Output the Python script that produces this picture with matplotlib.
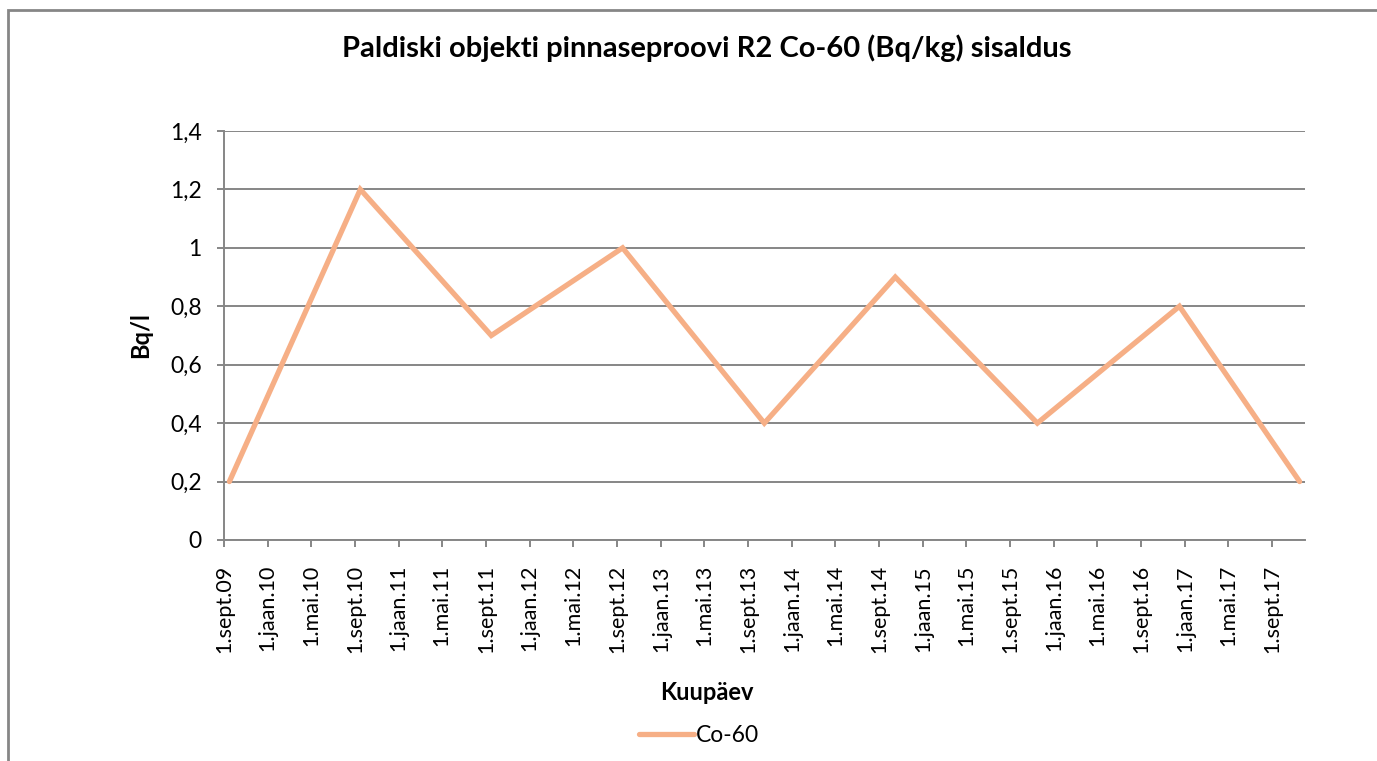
import matplotlib
matplotlib.use("Agg")
import matplotlib.pyplot as plt
from matplotlib.patches import Rectangle
import pandas as pd

# Co-60 proovid (kuu, Bq/l)
sample_months = ["2009-09", "2010-09", "2011-09", "2012-09", "2013-10",
                 "2014-10", "2015-11", "2016-12", "2017-11"]
co60 = [0.2, 1.2, 0.7, 1.0, 0.4, 0.9, 0.4, 0.8, 0.2]

# eesti keelsed kuude lühendid telje jaoks
month_names = {1: "jaan", 5: "mai", 9: "sept"}
y_ticks = [0, 0.2, 0.4, 0.6, 0.8, 1, 1.2, 1.4]

plt.rcParams["font.family"] = ["Lato", "DejaVu Sans"]

W, H = 1377, 761
fig = plt.figure(figsize=(W / 100, H / 100), dpi=100)
ax = fig.add_axes([224 / W, 1 - 540 / H, (1305 - 224) / W, (540 - 131) / H])

# punktid kuu keskel (Excel kuupõhine telg)
dates = pd.to_datetime(sample_months) + pd.Timedelta(days=15)
ax.plot(dates, co60, color="#F6AF86", lw=3.8, solid_joinstyle="miter",
        solid_capstyle="round", label="Co-60")

grey = "#868686"
ax.set_xlim(pd.Timestamp("2009-09-01"), pd.Timestamp("2017-12-01"))
ax.set_ylim(0, 1.4)
ax.set_yticks(y_ticks)
ax.set_yticklabels([f"{v:g}".replace(".", ",") for v in y_ticks])

ticks = pd.date_range("2009-09-01", "2017-09-01", freq="4MS")
ax.set_xticks(ticks)
ax.set_xticklabels([f"1.{month_names[t.month]}.{t.strftime('%y')}" for t in ticks],
                   rotation=90, va="top", ha="center")

ax.yaxis.grid(True, color=grey, lw=1.4)
ax.set_axisbelow(True)
for s in ["top", "right"]:
    ax.spines[s].set_visible(False)
for s in ["left", "bottom"]:
    ax.spines[s].set_color(grey)
    ax.spines[s].set_linewidth(1.4)
ax.tick_params(axis="both", direction="out", color=grey, width=1.4, length=5,
               labelsize=16.5, labelcolor="black")
ax.tick_params(axis="y", pad=11)
ax.tick_params(axis="x", pad=13, labelsize=15.5)

fig.text(707 / W, 1 - 48 / H, "Paldiski objekti pinnaseproovi R2 Co-60 (Bq/kg) sisaldus",
         ha="center", va="center", fontsize=21, fontweight="bold")
fig.text(141 / W, 1 - 335 / H, "Bq/l", rotation=90, ha="center", va="center",
         fontsize=17, fontweight="bold")
fig.text(707 / W, 1 - 692 / H, "Kuupäev", ha="center", va="center",
         fontsize=17, fontweight="bold")

fig.legend(loc="center", bbox_to_anchor=(699 / W, 1 - 736 / H), frameon=False,
           fontsize=16.5, handlelength=2.4, handletextpad=0.1)

# diagrammiala raam
fig.patches.append(Rectangle((8 / W, -0.1), 1.2, (H - 10) / H + 0.1,
                             transform=fig.transFigure, fill=False,
                             edgecolor=grey, lw=2, clip_on=False))

fig.savefig("out.png", dpi=100, facecolor="white")
